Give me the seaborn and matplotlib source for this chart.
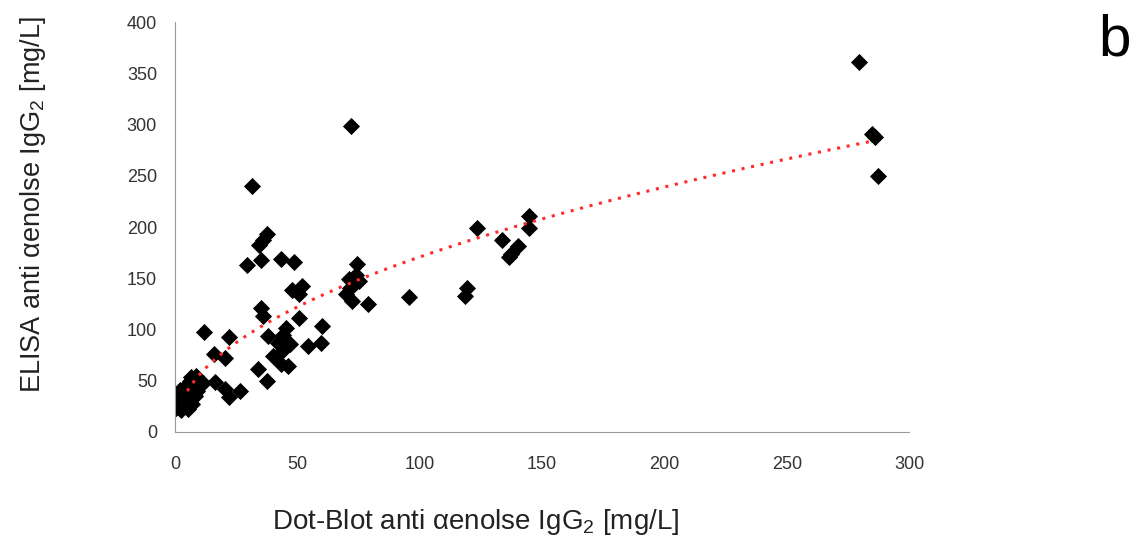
import numpy as np
import pandas as pd
import seaborn as sns
import matplotlib.pyplot as plt

# 1. Données (Dot-Blot vs ELISA, mg/L)
dot_blot = [
    279.5, 285, 286, 287.5, 72, 31.5,
    144.5, 144.5, 123.5, 133.5, 140, 137.5, 136.5, 119.5, 118.5, 95.5,
    74.5, 74, 71, 75, 71.5, 70, 72.5, 79, 73,
    37.5, 36, 34.5, 29.5, 35, 43.5, 48.5, 52, 48, 50.5, 35, 36, 50.5,
    60, 59.5, 54.5, 45.5, 44, 38, 42, 47, 44, 40, 43.5, 46, 34, 37.5,
    12, 22, 16, 20.5, 11.5, 16.5, 20.5, 22, 26.5, 8.5,
    0.5, 0.3, 0.5, 2.5, 4.5, 4, 6, 5.5, 7.5, 8, 6, 4.5, 2, 3, 8, 7, 1.5, 3, 5.5,
    9, 6.5,
]
elisa = [
    361, 291, 288, 250, 299, 240,
    211, 199, 199, 187, 181, 174, 171, 140, 133, 132,
    164, 153, 149, 147, 140, 135, 128, 125, 144,
    193, 187, 182, 163, 168, 169, 166, 142, 139, 135, 121, 113, 111,
    103, 87, 84, 101, 95, 94, 87, 86, 80, 74, 66, 64, 61, 50,
    97.5, 93, 76, 72, 48, 49, 42, 34, 40, 55,
    23, 29, 36, 21, 26, 34, 38, 31, 41, 45, 50, 45, 41, 31, 35, 27, 33, 38, 22,
    40, 54,
]
x_ticks = [0, 50, 100, 150, 200, 250, 300]
y_ticks = [0, 50, 100, 150, 200, 250, 300, 350, 400]

trend_a = 18.3
trend_b = 0.485
trend_x_start = 5
trend_x_end = 285

df = pd.DataFrame({"dot_blot": dot_blot, "elisa": elisa})

# 2. Points de la courbe de tendance
x_fit = np.linspace(trend_x_start, trend_x_end, 300)
y_fit = trend_a * x_fit ** trend_b

# 3. Figure
sns.set_style("white")
plt.rcParams["font.family"] = ["Liberation Sans", "DejaVu Sans"]
plt.rcParams["mathtext.default"] = "regular"

fig = plt.figure(figsize=(11.38, 5.41), dpi=100)
ax = fig.add_axes([0.1538, 0.2015, 0.645, 0.7578])

sns.lineplot(x=x_fit, y=y_fit, ax=ax, color="#ff2a2a", linestyle=(0, (1, 2.2)),
             linewidth=2.2, zorder=3)
sns.scatterplot(data=df, x="dot_blot", y="elisa", ax=ax, marker="D", s=76,
                color="black", linewidth=0, zorder=2)

# 4. Axes
ax.set_xlim(0, 300)
ax.set_ylim(0, 400)
ax.set_xticks(x_ticks)
ax.set_yticks(y_ticks)
ax.tick_params(axis="both", direction="out", length=5, width=0.8, color="#999999",
               labelsize=13, labelcolor="#333333", pad=8)
ax.tick_params(axis="x", pad=12)
sns.despine(ax=ax)
for side in ["left", "bottom"]:
    ax.spines[side].set_color("#999999")
    ax.spines[side].set_linewidth(0.8)

ax.set_xlabel(r"Dot-Blot anti $\alpha$enolse IgG$_2$ [mg/L]", fontsize=20, color="#222222")
ax.set_ylabel(r"ELISA anti $\alpha$enolse IgG$_2$ [mg/L]", fontsize=19.5, color="#222222")
ax.xaxis.label.set_va("center")
ax.yaxis.label.set_va("center")
ax.xaxis.set_label_coords(0.41, -0.22)
ax.yaxis.set_label_coords(-0.193, 0.554)

fig.text(0.979, 0.926, "b", fontsize=42, ha="center", va="center", color="black")

plt.savefig("out.png", dpi=100)
